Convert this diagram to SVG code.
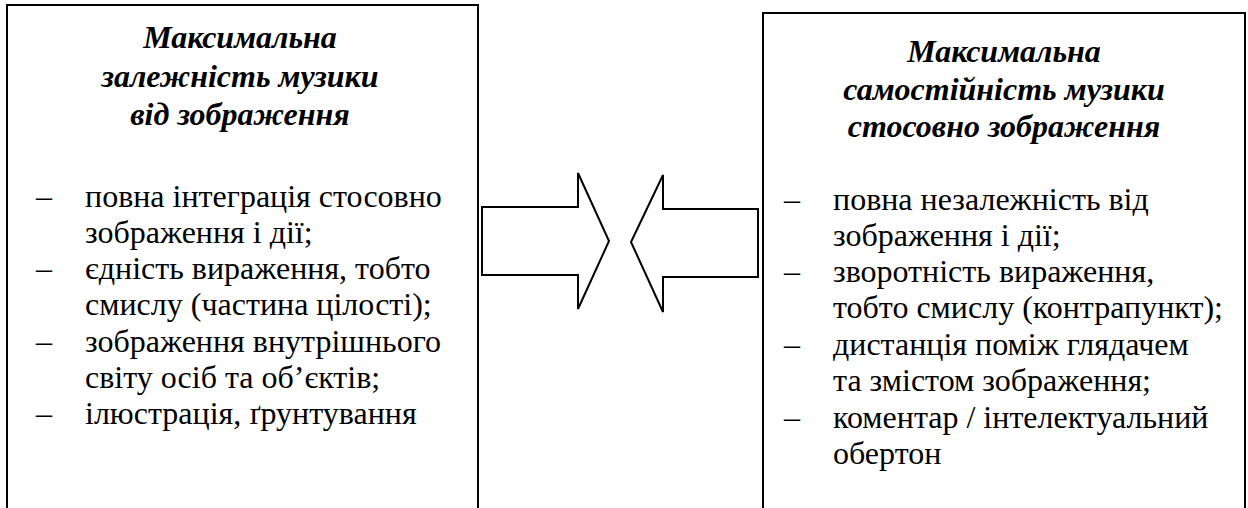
<svg xmlns="http://www.w3.org/2000/svg" width="1248" height="508" viewBox="0 0 1248 508">
  <style>
    .box { fill: #ffffff; stroke: #000000; stroke-width: 2; }
    .arrow { fill: #ffffff; stroke: #000000; stroke-width: 2; stroke-linejoin: miter; }
    .head { font-family: 'Liberation Serif', 'DejaVu Serif', serif; font-size: 32px; font-weight: bold; font-style: italic; fill: #000000; text-anchor: middle; }
    .item { font-family: 'Liberation Serif', 'DejaVu Serif', serif; font-size: 32px; fill: #000000; }
  </style>
  <rect width="1248" height="508" fill="#ffffff"/>

  <!-- left block: dependence of music on the image -->
  <g id="left-box">
    <rect class="box" x="7" y="5" width="471" height="520"/>
    <text class="head" x="240" y="48">Максимальна</text>
    <text class="head" x="240" y="87">залежність музики</text>
    <text class="head" x="240" y="125">від зображення</text>
    <text class="item" x="36" y="207">–</text>
    <text class="item" x="85" y="207">повна інтеграція стосовно</text>
    <text class="item" x="85" y="243">зображення і дії;</text>
    <text class="item" x="36" y="279">–</text>
    <text class="item" x="85" y="279">єдність вираження, тобто</text>
    <text class="item" x="85" y="315">смислу (частина цілості);</text>
    <text class="item" x="36" y="352">–</text>
    <text class="item" x="85" y="352">зображення внутрішнього</text>
    <text class="item" x="85" y="388">світу осіб та об’єктів;</text>
    <text class="item" x="36" y="424">–</text>
    <text class="item" x="85" y="424">ілюстрація, ґрунтування</text>
  </g>

  <!-- right block: independence of music from the image -->
  <g id="right-box">
    <rect class="box" x="763" y="13" width="482" height="520"/>
    <text class="head" x="1004" y="62">Максимальна</text>
    <text class="head" x="1004" y="100">самостійність музики</text>
    <text class="head" x="1004" y="137">стосовно зображення</text>
    <text class="item" x="784" y="210">–</text>
    <text class="item" x="833" y="210">повна незалежність від</text>
    <text class="item" x="833" y="246">зображення і дії;</text>
    <text class="item" x="784" y="282">–</text>
    <text class="item" x="833" y="282">зворотність вираження,</text>
    <text class="item" x="833" y="318">тобто смислу (контрапункт);</text>
    <text class="item" x="784" y="355">–</text>
    <text class="item" x="833" y="355">дистанція поміж глядачем</text>
    <text class="item" x="833" y="391">та змістом зображення;</text>
    <text class="item" x="784" y="428">–</text>
    <text class="item" x="833" y="428">коментар / інтелектуальний</text>
    <text class="item" x="833" y="464">обертон</text>
  </g>

  <!-- opposing block arrows between the two blocks -->
  <g id="connectors">
    <polygon class="arrow" points="482,207 578,207 578,173 609,241 578,309 578,275 482,275"/>
    <polygon class="arrow" points="758,209 663,209 663,175 631,242 663,312 663,277 758,277"/>
  </g>
</svg>
